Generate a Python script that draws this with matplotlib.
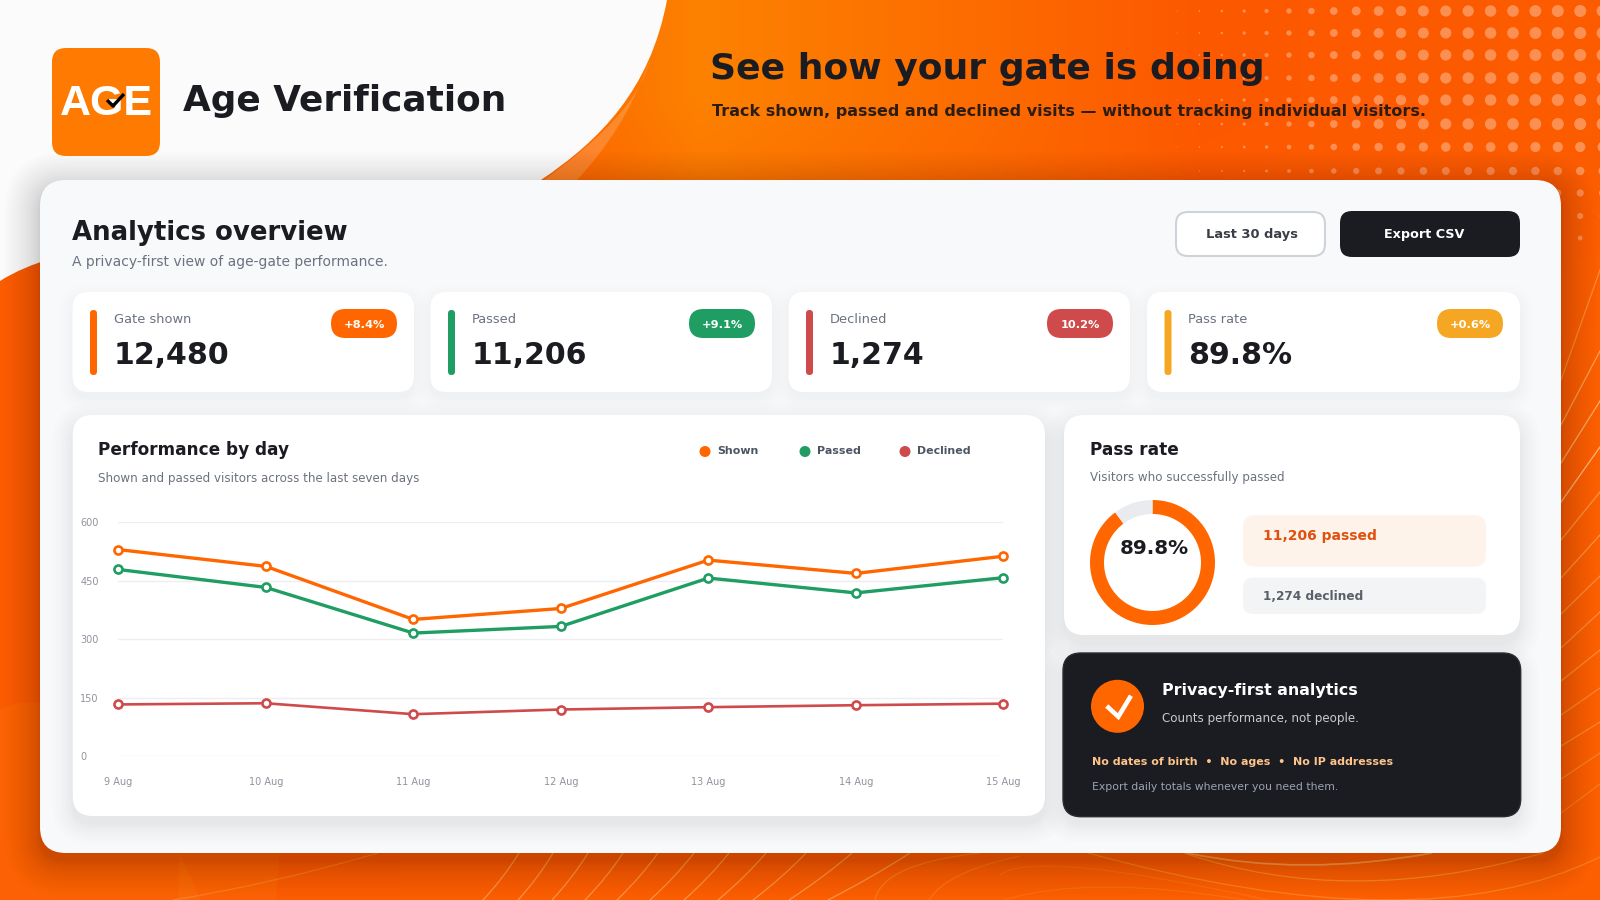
import numpy as np
import matplotlib
matplotlib.use("Agg")
import matplotlib.pyplot as plt
from matplotlib.patches import FancyBboxPatch, PathPatch, Circle
from matplotlib.path import Path

# chart data
days = ["9 Aug", "10 Aug", "11 Aug", "12 Aug", "13 Aug", "14 Aug", "15 Aug"]
shown = [530, 487, 351, 379, 503, 469, 513]
passed = [479, 433, 316, 333, 457, 419, 458]
declined = [133, 136, 108, 120, 126, 131, 135]
y_ticks = [0, 150, 300, 450, 600]

pass_share = [89.8, 10.2]

kpi_labels = ["Gate shown", "Passed", "Declined", "Pass rate"]
kpi_values = ["12,480", "11,206", "1,274", "89.8%"]
kpi_badges = ["+8.4%", "+9.1%", "10.2%", "+0.6%"]

ORANGE = "#ff6600"
GREEN = "#1f9d63"
RED = "#cf4a4a"
AMBER = "#f5a623"
INK = "#1a1c21"
GREY = "#6b7280"
kpi_colors = [ORANGE, GREEN, RED, AMBER]

W, H = 1600, 900
fig = plt.figure(figsize=(16, 9), dpi=100)
bg = fig.add_axes([0, 0, 1, 1])
bg.set_xlim(0, W)
bg.set_ylim(H, 0)
bg.axis("off")


def box(x0, y0, x1, y1, r, color, z=2, alpha=1.0, edge="none", lw=0):
    p = FancyBboxPatch((x0, y0), x1 - x0, y1 - y0, boxstyle="round,pad=0,rounding_size=%g" % r,
                       fc=color, ec=edge, lw=lw, alpha=alpha, zorder=z)
    bg.add_patch(p)
    return p


def shadow(x0, y0, x1, y1, r, spread, layers, alpha, dy, z):
    # denser layers close to the card so the edge fades out softly
    for i in range(layers):
        e = spread * ((i + 1) / layers) ** 1.6
        box(x0 - e, y0 - e + dy, x1 + e, y1 + e + dy, r + e, "black", z=z, alpha=alpha)


def label(x, y, s, size, color=INK, bold=False, ha="left", z=6):
    bg.text(x, y, s, fontsize=size, color=color, ha=ha, va="baseline",
            fontweight="bold" if bold else "normal", zorder=z)


def bend(a, m, b):
    # quadratic curve from a to b going through m
    c = (2 * m[0] - (a[0] + b[0]) / 2, 2 * m[1] - (a[1] + b[1]) / 2)
    return Path([a, c, b], [Path.MOVETO, Path.CURVE3, Path.CURVE3])


# background gradient, bright band only in the top part
xs = np.arange(W)
ys = np.arange(H)
stops = [0, 500, 700, 1000, 1200, 1600]
top_g = np.interp(xs, stops, [92, 95, 130, 106, 88, 92])
low_g = np.interp(xs, [0, 1600], [92, 96])
w = np.clip((400 - ys) / 300.0, 0, 1)[:, None]
g_ch = w * top_g + (1 - w) * low_g
r_ch = np.full((H, W), 252.0)
grad = np.dstack([r_ch, g_ch, np.zeros((H, W))]) / 255.0
bg.imshow(grad, extent=(0, W, H, 0), aspect="auto", zorder=0)
bg.set_xlim(0, W)
bg.set_ylim(H, 0)

# lighter swell bottom left
swell = Path([(0, 709), (40, 690), (120, 700), (200, 900), (0, 900), (0, 709)],
             [Path.MOVETO, Path.CURVE4, Path.CURVE4, Path.CURVE4, Path.LINETO, Path.LINETO])
bg.add_patch(PathPatch(swell, fc="#ffb040", ec="none", alpha=0.08, zorder=0.5))
band = Path([(178, 900), (180, 850), (280, 850), (276, 900), (178, 900)],
            [Path.MOVETO, Path.LINETO, Path.LINETO, Path.LINETO, Path.LINETO])
bg.add_patch(PathPatch(band, fc="#ffb040", ec="none", alpha=0.08, zorder=0.5))

# halftone dots, top right
dot_cols = np.arange(1177, 1610, 22.4)
dot_rows = [11, 33, 55, 78, 100, 124, 147, 171, 193, 216, 238]
row_scale = [1, 1, 1, 1, 1, 1, 0.85, 0.7, 0.6, 0.5, 0.4]
dia = np.interp(dot_cols, [1177, 1264, 1320, 1366, 1430, 1560], [1, 4, 7, 9.5, 11, 12])
for y, k in zip(dot_rows, row_scale):
    bg.scatter(dot_cols, [y] * len(dot_cols), s=(dia * k * 0.72) ** 2, c="white", alpha=0.33,
               linewidths=0, zorder=0.6)

# contour lines down the right edge and along the bottom
right_in = [380, 425, 463, 502, 540, 578, 614, 648, 681, 715, 746, 779, 813]
right_out = [270, 351, 401, 447, 492, 535, 576, 612, 650, 688, 722, 753, 784]
right_alpha = [0.35, 0.5, 0.6, 0.7, 0.4, 0.4, 0.35, 0.35, 0.35, 0.3, 0.3, 0.25, 0.2]
for a, b, al in zip(right_in, right_out, right_alpha):
    bg.plot([1561, 1600], [a, b], color="#ffe0b0", lw=0.9, alpha=al, zorder=0.7)

bottom_top = [519, 553, 588, 623, 658, 694, 729, 766, 806, 852, 910]
bottom_end = [483, 518, 552, 585, 617, 650, 684, 718, 753, 789, 828]
for a, b in zip(bottom_top, bottom_end):
    mid = ((a + b) / 2 + 1.5, 877)
    bg.add_patch(PathPatch(bend((a, 853), mid, (b, 900)), fc="none", ec="#ffd9a0", lw=0.9, alpha=0.45, zorder=0.7))
bg.add_patch(PathPatch(bend((378, 853), (275, 880), (173, 900)), fc="none", ec="#ffc880", lw=0.9, alpha=0.25, zorder=0.7))
bg.add_patch(PathPatch(bend((980, 853), (905, 870), (875, 900)), fc="none", ec="#ffc880", lw=0.9, alpha=0.25, zorder=0.7))
bg.add_patch(PathPatch(bend((1020, 856), (960, 875), (929, 900)), fc="none", ec="#ffc880", lw=0.9, alpha=0.2, zorder=0.7))
bg.add_patch(PathPatch(bend((1187, 853), (1306, 865), (1432, 853)), fc="none", ec="#ffd9a0", lw=1.2, alpha=0.5, zorder=0.7))
bg.add_patch(PathPatch(bend((1184, 853), (1356, 881), (1543, 853)), fc="none", ec="#ffc880", lw=0.9, alpha=0.35, zorder=0.7))
bg.add_patch(PathPatch(bend((1088, 853), (1383, 900), (1600, 857)), fc="none", ec="#ffc880", lw=0.9, alpha=0.3, zorder=0.7))
bg.add_patch(PathPatch(bend((1000, 875), (1084, 868), (1268, 900)), fc="none", ec="#ffc880", lw=0.8, alpha=0.15, zorder=0.7))
bg.add_patch(PathPatch(bend((1004, 900), (1107, 887), (1245, 900)), fc="none", ec="#ffc880", lw=0.8, alpha=0.15, zorder=0.7))

# white blob top left plus its highlight
blob = Path([(667, 0), (650, 90), (600, 140), (541, 180), (420, 260), (120, 205), (0, 281), (0, 0), (667, 0)],
            [Path.MOVETO, Path.CURVE4, Path.CURVE4, Path.CURVE4, Path.CURVE4, Path.CURVE4, Path.CURVE4,
             Path.LINETO, Path.LINETO])
glow = Path([(650, 60), (640, 100), (600, 140), (541, 182), (575, 182), (625, 130), (650, 60)],
            [Path.MOVETO, Path.CURVE4, Path.CURVE4, Path.CURVE4, Path.LINETO, Path.CURVE3, Path.CURVE3])
bg.add_patch(PathPatch(glow, fc="white", ec="none", alpha=0.18, zorder=0.8))
bg.add_patch(PathPatch(blob, fc="#fbfbfb", ec="none", zorder=0.9))

# main panel
shadow(40, 180, 1561, 853, 26, 36, 24, 0.009, 8, 1)
box(40, 180, 1561, 853, 26, "#f8f9fb", z=2)

# header
box(52, 48, 160, 156, 14, "#ff7a00", z=3)
bg.text(106, 115, "AGE", fontsize=31, color="white", ha="center", va="baseline", fontweight="bold",
        family="Liberation Sans", zorder=4)
bg.plot([107, 113, 124], [100, 106, 94], color="black", lw=2.4, zorder=5, solid_capstyle="butt")
label(183, 111, "Age Verification", 25.8, INK, True)
label(710, 79, "See how your gate is doing", 26, INK, True)
label(712, 116, "Track shown, passed and declined visits \u2014 without tracking individual visitors.", 11.5, "#2b1c14", True)

label(72, 240, "Analytics overview", 18.7, INK, True)
label(72, 266, "A privacy-first view of age-gate performance.", 10, GREY)
box(1176, 212, 1325, 256, 12, "white", z=3, edge="#d0d2da", lw=1.5)
label(1252, 238, "Last 30 days", 9.4, "#3a3d45", True, ha="center")
box(1340, 211, 1520, 257, 12, INK, z=3)
label(1424, 238, "Export CSV", 9.2, "white", True, ha="center")

# KPI cards
kpi_left = [72.5, 430.5, 788.5, 1147]
kpi_right = [414, 772, 1130, 1520]
for i in range(4):
    x0, x1 = kpi_left[i], kpi_right[i]
    shadow(x0, 292, x1, 392, 16, 14, 8, 0.005, 6, 2.5)
    box(x0, 292, x1, 392, 16, "white", z=3)
    box(x0 + 17.5, 310, x0 + 24.5, 375, 3.5, kpi_colors[i], z=4)
    label(x0 + 41.5, 323, kpi_labels[i], 9.4, GREY)
    label(x0 + 41.5, 363.5, kpi_values[i], 21.6, INK, True)
    box(x1 - 83, 309, x1 - 17, 338, 14.5, kpi_colors[i], z=4)
    label(x1 - 50, 328, kpi_badges[i], 8.2, "white", True, ha="center")

# chart card
shadow(72.7, 415, 1045, 816, 20, 20, 9, 0.006, 8, 2.5)
box(72.7, 415, 1045, 816, 20, "white", z=3)
label(98, 455, "Performance by day", 12.2, INK, True)
label(98, 482, "Shown and passed visitors across the last seven days", 8.6, GREY)
legend_names = ["Shown", "Passed", "Declined"]
legend_dots = [705, 805, 905]
for name, c, x in zip(legend_names, kpi_colors, legend_dots):
    bg.add_patch(Circle((x, 451.5), 5.5, fc=c, ec="none", zorder=5))
    label(x + 12.5, 454, name, 7.9, "#4b5563", True)

ax = fig.add_axes([118.3 / W, 1 - 756.3 / H, 885 / W, 234 / H], zorder=3)
ax.patch.set_alpha(0)
for name, vals, c, lw in [("Shown", shown, ORANGE, 2.4), ("Passed", passed, GREEN, 2.4), ("Declined", declined, RED, 1.9)]:
    ax.plot(range(len(days)), vals, color=c, lw=lw, marker="o", ms=5.8, mfc="white", mec=c, mew=1.9, clip_on=False, zorder=4)
ax.set_xlim(0, len(days) - 1)
ax.set_ylim(0, 600)
ax.set_xticks(range(len(days)), days)
ax.set_yticks(y_ticks)
ax.grid(axis="y", color="#eceef2", lw=1)
ax.set_axisbelow(True)
for s in ax.spines.values():
    s.set_visible(False)
ax.tick_params(axis="x", length=0, pad=15, labelsize=7, labelcolor="#8f939c")
ax.tick_params(axis="y", length=0, pad=27.4, labelsize=7, labelcolor="#8f939c")
for t in ax.get_yticklabels():
    t.set_ha("left")

# pass rate card
shadow(1064, 415, 1520, 635, 20, 20, 9, 0.006, 8, 2.5)
box(1064, 415, 1520, 635, 20, "white", z=3)
label(1090.3, 455, "Pass rate", 12.2, INK, True)
label(1090.3, 481, "Visitors who successfully passed", 8.6, GREY)
dx = fig.add_axes([(1152.5 - 62.5) / W, 1 - (562.5 + 62.5) / H, 125 / W, 125 / H], zorder=3)
dx.pie(pass_share, colors=[ORANGE, "#e9ebef"], startangle=90, counterclock=False, radius=1,
       wedgeprops={"width": 14 / 62.5, "linewidth": 0})
dx.set_xlim(-1, 1)
dx.set_ylim(-1, 1)
label(1154.7, 554.3, "89.8%", 14.4, INK, True, ha="center", z=6)
dx.patch.set_alpha(0)
box(1243, 515, 1486, 566.7, 12, "#fef3ea", z=4)
label(1263.3, 540, "11,206 passed", 10, "#e0500f", True)
box(1243, 577.7, 1486, 614, 10, "#f3f4f6", z=4)
label(1263.3, 600, "1,274 declined", 8.7, "#5b5f69", True)

# privacy card
shadow(1063, 653, 1520.7, 816.7, 18, 18, 8, 0.007, 8, 2.5)
box(1063, 653, 1520.7, 816.7, 18, INK, z=3, edge="#2a2c33", lw=1)
bg.add_patch(Circle((1117.5, 706.3), 26.5, fc=ORANGE, ec="none", zorder=4))
bg.plot([1106.7, 1118.3, 1131], [706, 716.7, 695.7], color="white", lw=3.3, zorder=5, solid_joinstyle="miter", solid_capstyle="butt")
label(1162, 695, "Privacy-first analytics", 11.4, "white", True)
label(1162, 721.7, "Counts performance, not people.", 8.6, "#c9cbd1")
label(1092, 765, "No dates of birth  \u2022  No ages  \u2022  No IP addresses", 7.9, "#ffc48a", True)
label(1092, 790, "Export daily totals whenever you need them.", 7.85, "#9ca3af")

fig.savefig("out.png", dpi=100)
